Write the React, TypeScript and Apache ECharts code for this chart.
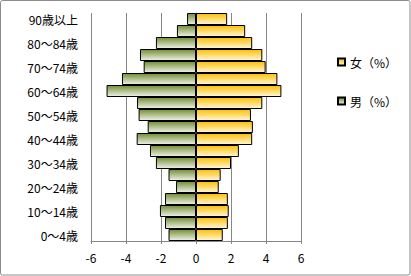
import React, { useEffect, useRef } from "react";
import * as echarts from "echarts";

const categories = [
  "0～4歳", "5～9歳", "10～14歳", "15～19歳", "20～24歳", "25～29歳", "30～34歳",
  "35～39歳", "40～44歳", "45～49歳", "50～54歳", "55～59歳", "60～64歳",
  "65～69歳", "70～74歳", "75～79歳", "80～84歳", "85～89歳", "90歳以上",
];
const maleValues = [
  -1.57, -1.77, -2.06, -1.77, -1.14, -1.57, -2.29, -2.63, -3.39, -2.76,
  -3.28, -3.37, -5.11, -4.23, -2.99, -3.2, -2.29, -1.09, -0.51,
];
const femaleValues = [
  1.53, 1.82, 1.87, 1.82, 1.3, 1.41, 2.0, 2.45, 3.21, 3.25,
  3.14, 3.79, 4.88, 4.65, 3.98, 3.79, 3.21, 2.81, 1.78,
];
const femaleName = "女（%）";
const maleName = "男（%）";

const FONT = "'Noto Sans CJK JP', sans-serif";

export default function App() {
  const ref = useRef<HTMLDivElement>(null);
  useEffect(() => {
    const chart = echarts.init(ref.current!, null, { renderer: "svg" });
    const maleGrad = new echarts.graphic.LinearGradient(0, 0, 0, 1, [
      { offset: 0, color: "#748f35" },
      { offset: 1, color: "#eef1e8" },
    ]);
    const femaleGrad = new echarts.graphic.LinearGradient(0, 0, 0, 1, [
      { offset: 0, color: "#ffbf00" },
      { offset: 1, color: "#fff6da" },
    ]);
    chart.setOption({
      animation: false,
      backgroundColor: "#ffffff",
      graphic: [
        {
          type: "rect",
          shape: { x: 0.5, y: 0.5, width: 409.5, height: 274.5, r: 2 },
          style: { fill: "none", stroke: "#8c8c8c", lineWidth: 1 },
          silent: true,
        },
      ],
      grid: { left: 91, right: 110, top: 13, bottom: 35, containLabel: false },
      legend: {
        data: [
          { name: femaleName, icon: "rect" },
          { name: maleName, icon: "rect" },
        ],
        orient: "vertical",
        left: 332,
        top: 51,
        itemGap: 27,
        itemWidth: 7,
        itemHeight: 7,
        textStyle: { fontFamily: FONT, fontSize: 12, color: "#000" },
      },
      xAxis: {
        type: "value",
        min: -6,
        max: 6,
        interval: 2,
        axisLine: { show: true, lineStyle: { color: "#868686" } },
        axisTick: { show: true, length: 3, lineStyle: { color: "#868686" } },
        splitLine: { show: true, lineStyle: { color: "#868686", width: 1 } },
        axisLabel: { fontFamily: FONT, fontSize: 12, color: "#000", margin: 10 },
      },
      yAxis: [
        {
          type: "category",
          data: categories,
          axisLine: { show: false, onZero: false },
          axisTick: { show: false },
          axisLabel: {
            interval: 1,
            fontFamily: FONT,
            fontSize: 12,
            color: "#000",
            margin: 13,
          },
        },
        {
          type: "category",
          data: categories,
          position: "left",
          axisLine: { show: true, onZero: true, lineStyle: { color: "#868686" } },
          axisTick: { show: true, length: 3, lineStyle: { color: "#868686" } },
          axisLabel: { show: false },
        },
      ],
      series: [
        {
          name: maleName,
          type: "bar",
          stack: "pop",
          yAxisIndex: 0,
          data: maleValues,
          barCategoryGap: 0,
          itemStyle: { color: maleGrad, borderColor: "#000", borderWidth: 1 },
        },
        {
          name: femaleName,
          type: "bar",
          stack: "pop",
          yAxisIndex: 0,
          data: femaleValues,
          barCategoryGap: 0,
          itemStyle: { color: femaleGrad, borderColor: "#000", borderWidth: 1 },
        },
      ],
    });
    return () => chart.dispose();
  }, []);
  return (
    <div
      ref={ref}
      style={{ position: "fixed", left: 0, top: 0, width: 411, height: 276 }}
    />
  );
}
